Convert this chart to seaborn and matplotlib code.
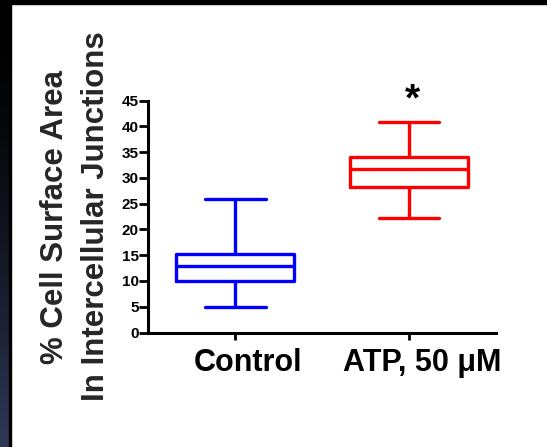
import matplotlib
matplotlib.use("Agg")
import matplotlib.pyplot as plt
import numpy as np
import pandas as pd
import seaborn as sns
from matplotlib.transforms import ScaledTranslation
from matplotlib.patches import Rectangle

## Data: five-number summaries (min, Q1, median, Q3, max)
groups = ["Control", "ATP, 50 \u03bcM"]
control_vals = [5.0, 10.0, 12.9, 15.2, 26.0]
atp_vals = [22.3, 28.3, 31.8, 34.0, 40.9]
box_colors = ["#0000ff", "#ff0000"]
y_ticks = list(range(0, 50, 5))

df = pd.DataFrame({
    "group": [groups[0]] * len(control_vals) + [groups[1]] * len(atp_vals),
    "value": control_vals + atp_vals,
})

sns.set_style("ticks")
plt.rcParams["font.family"] = ["Liberation Sans", "DejaVu Sans"]
plt.rcParams["font.weight"] = "bold"

W, H = 547, 447
fig = plt.figure(figsize=(W / 100, H / 100), dpi=100, facecolor="white")

# dark slide frame around the white panel
bg = fig.add_axes([0, 0, 9 / W, 1])
grad = np.linspace(0, 1, 256) ** 1.6
cols = np.zeros((256, 1, 3))
cols[:, 0, 0] = grad * 47 / 255
cols[:, 0, 1] = grad * 58 / 255
cols[:, 0, 2] = grad * 88 / 255
bg.imshow(cols, aspect="auto", extent=[0, 1, 1, 0])
bg.axis("off")
fig.add_artist(Rectangle((9 / W, 0), 2 / W, 1, transform=fig.transFigure, color="black"))
fig.add_artist(Rectangle((0, 1 - 4 / H), 1, 4 / H, transform=fig.transFigure, color="black"))

ax = fig.add_axes([148.3 / W, (H - 332.5) / H, 347.7 / W, 231.8 / H])

sns.boxplot(data=df, x="group", y="value", hue="group", palette=box_colors,
            fill=False, width=0.68, whis=(0, 100), linewidth=2.4,
            capwidths=0.35, legend=False, ax=ax)

ax.set_xlim(-0.5, 1.5)
ax.set_ylim(0, 45)
ax.set_yticks(y_ticks)
ax.set_yticklabels([str(t) for t in y_ticks], fontsize=11, fontweight="bold")
ax.set_xlabel("")
ax.set_ylabel("% Cell Surface Area\nIn Intercellular Junctions",
              fontsize=22.5, fontweight="bold", linespacing=1.45)
ax.yaxis.set_label_coords(-0.108, 0.5)

sns.despine(ax=ax)
for s in ["left", "bottom"]:
    ax.spines[s].set_linewidth(2.2)
    ax.spines[s].set_color("black")
ax.tick_params(axis="y", length=6.5, width=2, pad=0.5, colors="black")
ax.tick_params(axis="x", length=5, width=2, pad=6.3, colors="black", labelsize=22)
for lbl in ax.get_xticklabels():
    lbl.set_fontweight("bold")
    lbl.set_transform(lbl.get_transform() + ScaledTranslation(0.13, 0, fig.dpi_scale_trans))

# significance mark
ax.text(1.02, 43.1, "*", fontsize=28, fontweight="bold", ha="center",
        va="baseline", color="black", clip_on=False)

fig.savefig("out.png", dpi=100)
